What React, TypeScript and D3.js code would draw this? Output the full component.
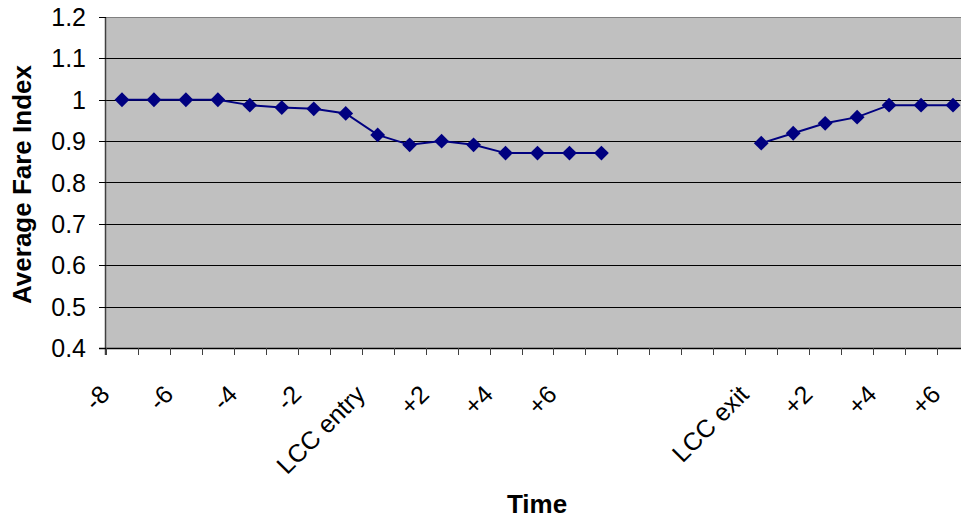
import React from "react";
import * as d3 from "d3";

const categories = [
  "-8", "-7", "-6", "-5", "-4", "-3", "-2", "-1", "LCC entry",
  "+1", "+2", "+3", "+4", "+5", "+6", "+7",
  "", "", "", "",
  "LCC exit", "+1", "+2", "+3", "+4", "+5", "+6",
];
const fareIndex: (number | null)[] = [
  1.0, 1.0, 1.0, 1.0, 0.987, 0.981, 0.978, 0.967, 0.915,
  0.891, 0.9, 0.891, 0.871, 0.871, 0.871, 0.871,
  null, null, null, null,
  0.895, 0.919, 0.943, 0.958, 0.987, 0.987, 0.987,
];
const yTicks = [0.4, 0.5, 0.6, 0.7, 0.8, 0.9, 1.0, 1.1, 1.2];

const W = 961;
const H = 518;
const left = 106;
const top = 17;
const plotW = 863;
const bottom = 348;
const FONT = "'Liberation Sans', Arial, sans-serif";

export default function App() {
  const idx = categories.map((_, i) => i);
  const x = d3.scaleBand<number>().domain(idx).range([left, left + plotW]).padding(0);
  const y = d3.scaleLinear().domain([0.4, 1.2]).range([bottom, top]);
  const cx = (i: number) => (x(i) as number) + x.bandwidth() / 2;

  const line = d3
    .line<number | null>()
    .defined((d) => d != null)
    .x((_, i) => cx(i))
    .y((d) => y(d as number));

  const diamond = d3.symbol().type(d3.symbolDiamond2).size(140)();

  return (
    <svg width={W} height={H} style={{ display: "block", position: "absolute", left: 0, top: 0 }}>
      <rect x={0} y={0} width={W} height={H} fill="#ffffff" />
      <rect x={left} y={top} width={plotW} height={bottom - top} fill="#c0c0c0" />
      <line x1={left} x2={left + plotW} y1={top + 0.5} y2={top + 0.5} stroke="#808080" strokeWidth={1} />
      {yTicks.slice(1, -1).map((t) => (
        <line key={t} x1={left} x2={left + plotW} y1={Math.round(y(t)) + 0.5} y2={Math.round(y(t)) + 0.5} stroke="#000" strokeWidth={1} />
      ))}
      {/* y axis */}
      <line x1={left - 0.5} x2={left - 0.5} y1={top} y2={bottom + 7} stroke="#404040" strokeWidth={1.5} />
      {yTicks.map((t) => (
        <g key={"yt" + t}>
          <line x1={left - 7} x2={left} y1={Math.round(y(t)) + 0.5} y2={Math.round(y(t)) + 0.5} stroke="#000" strokeWidth={1} />
          <text x={86} y={y(t)} dy="0.36em" textAnchor="end" fontFamily={FONT} fontSize={25} fill="#000">
            {String(t === 1 ? 1 : t.toFixed(1))}
          </text>
        </g>
      ))}
      {/* x axis */}
      <line x1={left - 7} x2={left + plotW} y1={bottom + 0.5} y2={bottom + 0.5} stroke="#000" strokeWidth={1.5} />
      {d3.range(categories.length + 1).map((i) => {
        const xx = Math.round(left + i * x.bandwidth()) + 0.5;
        return <line key={"xt" + i} x1={xx} x2={xx} y1={bottom} y2={bottom + 7} stroke="#404040" strokeWidth={1} />;
      })}
      {categories.map((c, i) =>
        i % 2 === 0 && c ? (
          <text
            key={"xl" + i}
            transform={`translate(${cx(i) - 11},${396}) rotate(-45)`}
            textAnchor="end"
            fontFamily={FONT}
            fontSize={25}
            fill="#000"
          >
            {c}
          </text>
        ) : null
      )}
      {/* series */}
      <path d={line(fareIndex) || ""} fill="none" stroke="#000080" strokeWidth={2} />
      {fareIndex.map((v, i) =>
        v == null ? null : (
          <path key={"m" + i} d={diamond || ""} transform={`translate(${cx(i)},${y(v)})`} fill="#000080" />
        )
      )}
      {/* titles */}
      <text x={537} y={513} textAnchor="middle" fontFamily={FONT} fontWeight="bold" fontSize={26} fill="#000">
        Time
      </text>
      <text
        transform={`translate(31,${(top + bottom) / 2 + 2}) rotate(-90)`}
        textAnchor="middle"
        fontFamily={FONT}
        fontWeight="bold"
        fontSize={26}
        fill="#000"
      >
        Average Fare Index
      </text>
    </svg>
  );
}
